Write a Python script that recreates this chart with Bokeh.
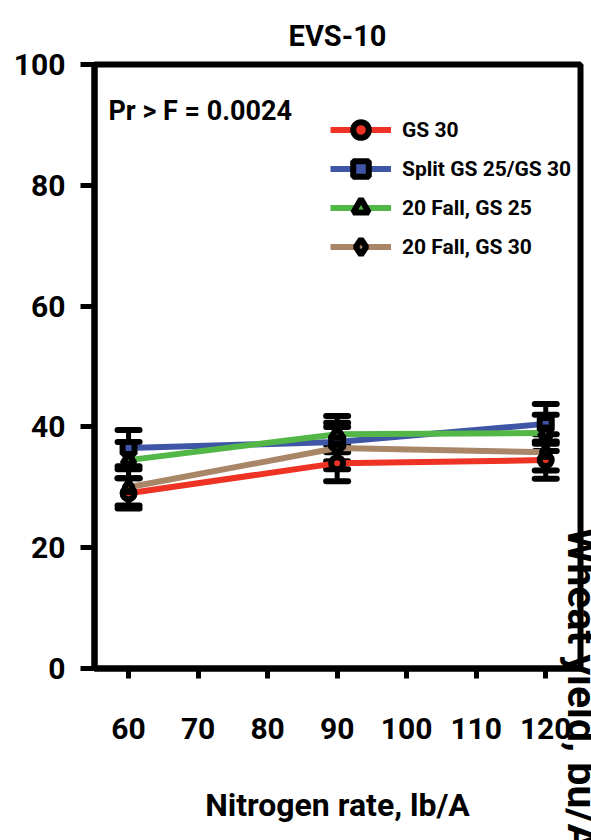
from bokeh.plotting import figure
from bokeh.models import (ColumnDataSource, Whisker, TeeHead, Label, Legend,
                          LegendItem, FixedTicker, Range1d, Title)
from bokeh.embed import file_html
from bokeh.resources import INLINE

# ---- data ----
nitrogen = [60, 90, 120]
series_names = ["GS 30", "Split GS 25/GS 30", "20 Fall, GS 25", "20 Fall, GS 30"]
gs30 = [29.0, 34.0, 34.5]
gs30_err = [2.5, 3.0, 3.1]
split = [36.5, 37.5, 40.5]
split_err = [3.0, 3.2, 3.3]
fall_gs25 = [34.5, 38.8, 39.0]
fall_gs25_err = [3.0, 3.0, 3.0]
fall_gs30 = [30.0, 36.5, 35.8]
fall_gs30_err = [3.0, 3.5, 3.0]
x_ticks = [60, 70, 80, 90, 100, 110, 120]
y_ticks = [0, 20, 40, 60, 80, 100]
y_label = "Wheat yield, bu/A"

colors = ["#EE3224", "#3F56A6", "#53B748", "#AA8668"]
markers = ["circle", "square", "triangle", "diamond"]

FONT = "Roboto"

p = figure(width=591, height=840,
           x_range=Range1d(55.1, 125.0), y_range=Range1d(0, 100),
           output_backend="svg", toolbar_location=None,
           min_border_left=94, min_border_right=11,
           min_border_top=64, min_border_bottom=172)

p.title.text = "EVS-10"
p.title.align = "center"
p.title.text_font = FONT
p.title.text_font_style = "bold"
p.title.text_font_size = "29px"
p.title.text_color = "black"
p.title.standoff = 24

p.xgrid.visible = False
p.ygrid.visible = False
p.outline_line_color = "black"
p.outline_line_width = 6

for ax in (p.xaxis[0], p.yaxis[0]):
    ax.axis_line_width = 6
    ax.axis_line_color = "black"
    ax.major_tick_line_width = 5
    ax.major_tick_line_color = "black"
    ax.major_tick_in = 0
    ax.minor_tick_line_color = None
    ax.major_label_text_font = FONT
    ax.major_label_text_font_style = "bold"
    ax.major_label_text_font_size = "30px"
    ax.major_label_text_color = "black"

p.xaxis.ticker = FixedTicker(ticks=x_ticks)
p.yaxis.ticker = FixedTicker(ticks=y_ticks)
p.xaxis.major_tick_out = 10
p.yaxis.major_tick_out = 14
p.xaxis.major_label_standoff = 39
p.yaxis.major_label_standoff = 15

p.xaxis.axis_label = "Nitrogen rate, lb/A"
p.xaxis.axis_label_text_font = FONT
p.xaxis.axis_label_text_font_style = "bold"
p.xaxis.axis_label_text_font_size = "32px"
p.xaxis.axis_label_text_color = "black"
p.xaxis.axis_label_standoff = 44

# y-axis title drawn at the right edge, reading top to bottom
ytitle = Title(text=y_label, align="left", vertical_align="bottom",
               offset=463, standoff=-46,
               text_font=FONT, text_font_style="bold",
               text_font_size="41px", text_color="black")
p.add_layout(ytitle, "right")

values = [gs30, split, fall_gs25, fall_gs30]
errors = [gs30_err, split_err, fall_gs25_err, fall_gs30_err]

line_rs = []
sources = []
for vals, errs, col in zip(values, errors, colors):
    src = ColumnDataSource(dict(
        x=nitrogen, y=vals,
        upper=[v + e for v, e in zip(vals, errs)],
        lower=[v - e for v, e in zip(vals, errs)]))
    sources.append(src)
    line_rs.append(p.line("x", "y", source=src, line_color=col, line_width=6))

for src in sources:
    w = Whisker(source=src, base="x", upper="upper", lower="lower",
                line_color="black", line_width=5,
                upper_head=TeeHead(size=22, line_width=6, line_color="black", line_cap="round"),
                lower_head=TeeHead(size=22, line_width=6, line_color="black", line_cap="round"))
    p.add_layout(w)

marker_rs = []
for src, col, mk in zip(sources, colors, markers):
    marker_rs.append(p.scatter("x", "y", source=src, marker=mk, size=12,
                               fill_color=col, line_color="black", line_width=6))

items = [LegendItem(label=name, renderers=[lr, mr])
         for name, lr, mr in zip(series_names, line_rs, marker_rs)]
legend = Legend(items=items, location=(236, 402),
                glyph_width=61, glyph_height=39, label_height=39,
                spacing=0, padding=0, margin=0, label_standoff=11,
                border_line_color=None, background_fill_alpha=0,
                label_text_font=FONT, label_text_font_style="bold",
                label_text_font_size="21px", label_text_color="black")
p.add_layout(legend)

p.add_layout(Label(x=57.1, y=92.3, text="Pr > F = 0.0024",
                   text_font=FONT, text_font_style="bold",
                   text_font_size="27px", text_color="black",
                   text_baseline="alphabetic", text_align="left"))

open("out.html", "w").write(file_html(p, INLINE))
